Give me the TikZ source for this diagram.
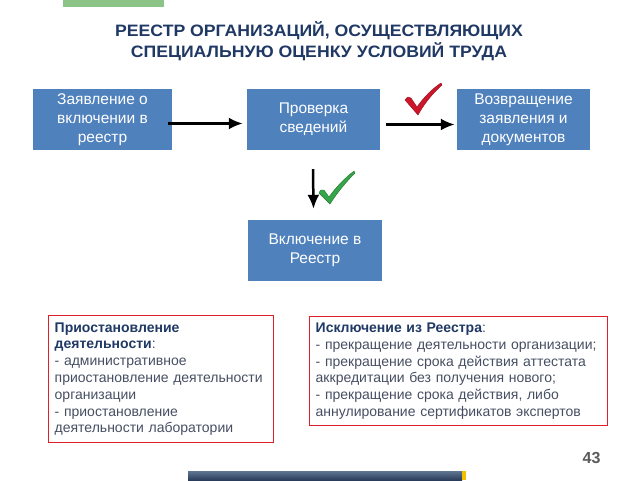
\documentclass[tikz,border=0pt]{standalone}
\usepackage{fontspec}
\setmainfont{Liberation Sans}
\newfontfamily\headfont[FakeStretch=1.07]{Liberation Sans}
\usetikzlibrary{arrows.meta}
\definecolor{boxblue}{RGB}{79,129,189}
\definecolor{titleblue}{RGB}{31,56,100}
\definecolor{bodygray}{RGB}{70,78,98}
\definecolor{framered}{RGB}{222,32,42}
\definecolor{topgreen}{RGB}{140,195,135}
\definecolor{checkred}{RGB}{205,22,42}
\definecolor{checkgreen}{RGB}{52,165,72}
\definecolor{barlight}{RGB}{95,118,145}
\definecolor{bardark}{RGB}{42,62,92}
\definecolor{baryellow}{RGB}{242,192,0}
\definecolor{pagegray}{RGB}{90,90,90}

\begin{document}
\begin{tikzpicture}[x=1pt,y=-1pt,
		stage/.style={rectangle, fill=boxblue, text=white, align=center, minimum height=61pt, inner sep=0pt, font=\fontsize{15.5}{19}\selectfont},
		infobox/.style={rectangle, draw=framered, line width=1.4pt, anchor=north west, align=left, inner xsep=6pt, inner ysep=0pt, text=bodygray, font=\fontsize{14}{16.8}\selectfont},
		arr/.style={line width=2.5pt, -{Latex[length=14pt,width=12pt]}}]
		\useasboundingbox (0,0) rectangle (640,480);
		\fill[topgreen] (63,0) rectangle (164,7);
		\node[align=center, text=titleblue, font=\headfont\fontsize{16.5}{21.5}\selectfont\bfseries] (title) at (319,41) {РЕЕСТР ОРГАНИЗАЦИЙ, ОСУЩЕСТВЛЯЮЩИХ\\СПЕЦИАЛЬНУЮ ОЦЕНКУ УСЛОВИЙ ТРУДА};
		\node[stage, minimum width=139pt] (zayav) at (102.5,119.5) {Заявление о\\включении в\\реестр};
		\node[stage, minimum width=133pt] (prov) at (313.5,119.5) {Проверка\\сведений};
		\node[stage, minimum width=133pt] (vozv) at (523.5,119.5) {Возвращение\\заявления и\\документов};
		\node[stage, minimum width=134pt] (vkl) at (315,250.5) {Включение в\\Реестр};
		\draw[arr] ([xshift=-4pt,yshift=-4pt]zayav.east) -- ([xshift=-4pt,yshift=-4pt]prov.west);
		\draw[arr] ([xshift=6pt,yshift=-5pt]prov.east) -- ([xshift=-2pt,yshift=-5pt]vozv.west);
		\draw[arr] ([xshift=-0.5pt,yshift=-19pt]prov.south) -- ([yshift=11pt]vkl.north -| prov.south);
		\fill[checkred, draw=checkred!70!black, line width=0.4pt] (405,100) .. controls (407,97) and (409,96) .. (411,98) -- (417,107) .. controls (424,97) and (432,89) .. (441,83) -- (442,85) .. controls (432,94) and (424,104) .. (418,115) -- cycle;
		\fill[checkgreen, draw=checkgreen!70!black, line width=0.4pt] (319,193) .. controls (320,190) and (322,189) .. (324,190) -- (329,197) .. controls (336,187) and (345,178) .. (354,171) -- (355,173) .. controls (346,182) and (337,193) .. (330,204) -- cycle;
		\node[infobox, text width=213pt, minimum height=127pt] (prio) at (48,315) {{\bfseries\color{titleblue}Приостановление}\\{\bfseries\color{titleblue}деятельности}:\\- административное\\приостановление деятельности\\организации\\- приостановление\\деятельности лаборатории};
		\node[infobox, text width=286pt, minimum height=109pt] (iskl) at (309,316) {{\bfseries\color{titleblue}Исключение из Реестра}:\\- прекращение деятельности организации;\\- прекращение срока действия аттестата\\аккредитации без получения нового;\\- прекращение срока действия, либо\\аннулирование сертификатов экспертов};
		\node[font=\fontsize{16}{19}\selectfont\bfseries, text=pagegray] (page) at (591.5,458) {43};
		\shade[top color=barlight, bottom color=bardark] (188,471) rectangle (462,480);
		\fill[baryellow] (462,471) rectangle (466,480);
	\end{tikzpicture}
\end{document}
